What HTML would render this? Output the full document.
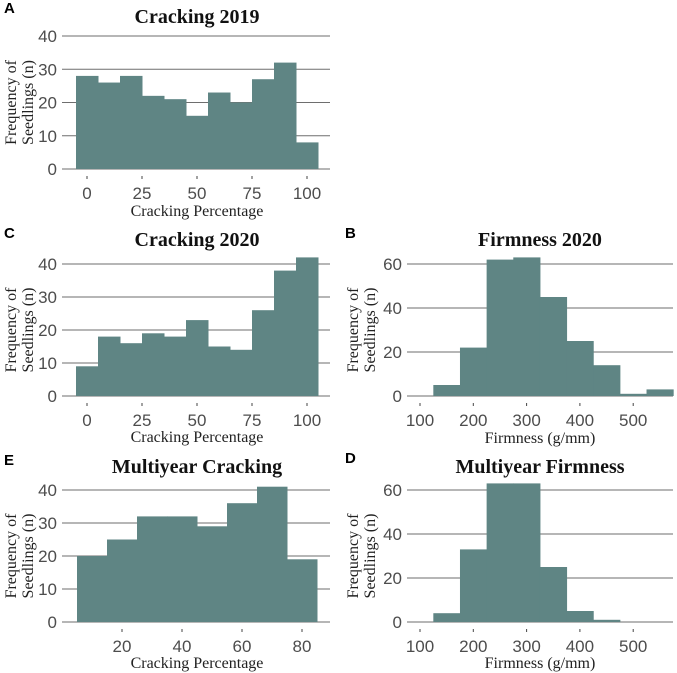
<!DOCTYPE html>
<html><head><meta charset="utf-8"><style>
body{margin:0;background:#fff}
svg{display:block}
.tl{font-family:"Liberation Sans",sans-serif;font-size:17px;fill:#4d4d4d}
.ti{font-family:"Liberation Serif",serif;font-size:20px;font-weight:bold;fill:#111}
.ax{font-family:"Liberation Serif",serif;font-size:16px;fill:#222}
.lt{font-family:"Liberation Sans",sans-serif;font-size:15px;font-weight:bold;fill:#000}
</style></head><body>
<svg id="fig" width="677" height="673"></svg>
<script>
const crack2019Values=[28,26,28,22,21,16,23,20,27,32,8];
const crack2019Starts=[-5,5,15,25,35,45,55,65,75,85,95];
const crack2020Values=[9,18,16,19,18,23,15,14,26,38,42];
const crack2020Starts=[-5,5,15,25,35,45,55,65,75,85,95];
const firm2020Values=[5,22,62,63,45,25,14,1,3];
const firm2020Starts=[125,175,225,275,325,375,425,475,525];
const multiCrackValues=[20,25,32,32,29,36,41,19];
const multiCrackStarts=[5,15,25,35,45,55,65,75];
const multiFirmValues=[4,33,63,63,25,5,1,0];
const multiFirmStarts=[125,175,225,275,325,375,425,475];
const crackTicks=[0,25,50,75,100];
const multiCrackTicks=[20,40,60,80];
const firmTicks=[100,200,300,400,500];
const countTicks40=[0,10,20,30,40];
const countTicks60=[0,20,40,60];

const NS="http://www.w3.org/2000/svg";
const svg=document.getElementById('fig');
function mk(tag,attrs,parent,text){const e=document.createElementNS(NS,tag);for(const k in attrs)e.setAttribute(k,attrs[k]);if(text!==undefined)e.textContent=text;parent.appendChild(e);return e;}

function panel(p){
  const g=mk('g',{},svg);
  
  
  const X=v=>p.xa+(v-p.xv)*p.xs;
  const Y=v=>p.y0-v*p.ys;
  const gl=p.right?407:62, gr=p.right?673:330;
  p.yTicks.forEach(t=>{
    const l=mk('line',{x1:gl,x2:gr,y1:Y(t),y2:Y(t),stroke:'#6e6e6e','stroke-width':1},g);
    
    
    const tx=mk('text',{x:gl-5,y:Y(t)+6,'text-anchor':'end',class:'tl'},g,String(t));
    
    
  });
  p.values.forEach((v,i)=>{
    if(v<=0)return;
    const x1=X(p.starts[i]),x2=X(p.starts[i]+p.bw);
    const r=mk('rect',{x:x1,y:Y(v),width:x2-x1+0.5,height:Y(0)-Y(v),fill:'#5f8584'},g);
    
    
  });
  p.xTicks.forEach(t=>{
    mk('line',{x1:X(t),x2:X(t),y1:Y(0)+7,y2:Y(0)+10,stroke:'#444','stroke-width':1},g);
    const tx=mk('text',{x:X(t),y:Y(0)+30,'text-anchor':'middle',class:'tl'},g,String(t));
    
    
  });
  const cx=p.right?540:197;
  const ti=mk('text',{x:cx,y:p.titleY,'text-anchor':'middle',class:'ti'},g,p.title);
  
  
  const xt=mk('text',{x:cx,y:p.xtY,'text-anchor':'middle',class:'ax'},g,p.xtitle);
  
  
  const lt=mk('text',{x:p.right?345:4,y:p.letterY,class:'lt'},g,p.letter);
  
  
  const my=(Y(0)+Y(p.yTicks[p.yTicks.length-1]))/2;
  const bx=p.right?358:16;
  const yt=mk('text',{transform:`translate(${bx},${my}) rotate(-90)`,'text-anchor':'middle',class:'ax'},g);
  
  
  mk('tspan',{x:0,y:0},yt,'Frequency of');
  mk('tspan',{x:0,y:17},yt,'Seedlings (n)');
}
panel({name:'panel-a-cracking-2019',letter:'A',title:'Cracking 2019',xtitle:'Cracking Percentage',values:crack2019Values,starts:crack2019Starts,bw:10,xTicks:crackTicks,yTicks:countTicks40,xa:87,xv:0,xs:2.2,y0:169,ys:3.325,titleY:23,xtY:216,letterY:13,right:false});
panel({name:'panel-c-cracking-2020',letter:'C',title:'Cracking 2020',xtitle:'Cracking Percentage',values:crack2020Values,starts:crack2020Starts,bw:10,xTicks:crackTicks,yTicks:countTicks40,xa:87,xv:0,xs:2.2,y0:396,ys:3.3,titleY:246,xtY:442,letterY:238,right:false});
panel({name:'panel-b-firmness-2020',letter:'B',title:'Firmness 2020',xtitle:'Firmness (g/mm)',values:firm2020Values,starts:firm2020Starts,bw:50,xTicks:firmTicks,yTicks:countTicks60,xa:420,xv:100,xs:0.533,y0:396,ys:2.2,titleY:246,xtY:443,letterY:238,right:true});
panel({name:'panel-e-multiyear-cracking',letter:'E',title:'Multiyear Cracking',xtitle:'Cracking Percentage',values:multiCrackValues,starts:multiCrackStarts,bw:10,xTicks:multiCrackTicks,yTicks:countTicks40,xa:122,xv:20,xs:3,y0:622,ys:3.3,titleY:473,xtY:668,letterY:465,right:false});
panel({name:'panel-d-multiyear-firmness',letter:'D',title:'Multiyear Firmness',xtitle:'Firmness (g/mm)',values:multiFirmValues,starts:multiFirmStarts,bw:50,xTicks:firmTicks,yTicks:countTicks60,xa:420,xv:100,xs:0.533,y0:622,ys:2.2,titleY:473,xtY:668,letterY:463,right:true});
</script>
</body></html>
